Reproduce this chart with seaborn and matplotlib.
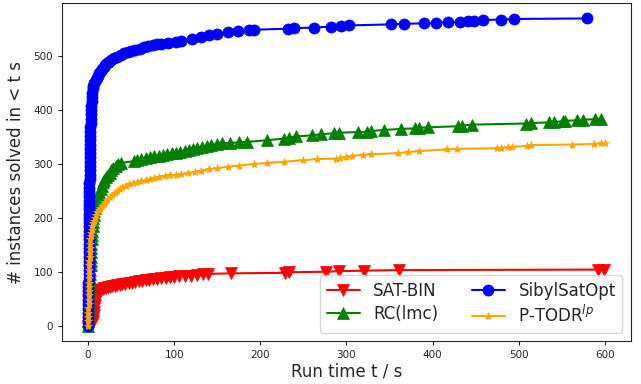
import matplotlib
matplotlib.use("Agg")
import matplotlib.pyplot as plt
import seaborn as sns
import pandas as pd

# ---- data: run time t (s) and number of instances solved ----
sat_bin_t = [0, 5, 6, 6.3, 6.6, 7, 7.3, 7.7, 8.1, 8.6, 9.2, 10, 11, 12, 13.5, 15, 17, 19, 21, 23,
             25, 28, 31, 34, 37, 40, 43, 47, 51, 55, 59, 63, 67, 71, 75, 80, 85, 90, 95, 100,
             106, 112, 119, 127, 133, 139, 166, 229, 233, 276, 291, 320, 361, 592, 599]
sat_bin_n = [0, 3, 8, 14, 20, 26, 32, 38, 44, 50, 55, 59, 62, 64, 66, 67, 68, 69, 70, 71,
             72, 73, 74, 75, 76, 77, 78, 79, 80, 81, 82, 83, 84, 85, 86, 87, 88, 89, 90, 91,
             92, 92, 93, 94, 95, 96, 97, 98, 99, 100, 101, 102, 103, 104, 104]

rc_t = [0, 0.3, 0.5, 0.7, 0.9, 1.1, 1.3, 1.5, 1.7, 1.9, 2.1, 2.3, 2.5, 2.7, 2.9, 3.1, 3.3, 3.5,
        3.7, 4.0, 4.3, 4.6, 5.0, 5.4, 5.8, 6.2, 6.8, 7.4, 8.2, 9, 10, 11, 12, 13, 14.5, 16, 17.5,
        19, 21, 23, 25, 27, 29.5, 32, 35, 38, 53, 57, 62, 67, 72, 77, 82, 87, 92, 97, 102, 107,
        112, 117, 122, 127, 132, 138, 143, 150, 155, 165, 175, 185, 208, 227, 233, 241, 260,
        270, 285, 291, 313, 324, 328, 343, 363, 380, 384, 395, 430, 434, 446, 508, 514, 535,
        541, 551, 554, 568, 574, 589, 595]
rc_n = [0, 8, 16, 24, 32, 40, 48, 56, 64, 72, 80, 88, 96, 104, 112, 120, 128, 136,
        144, 152, 160, 168, 176, 184, 192, 200, 206, 212, 218, 224, 230, 236, 242, 248, 254, 260, 266,
        271, 276, 280, 284, 288, 292, 296, 299, 302, 305, 307, 309, 311, 313, 314, 315, 317, 318, 320, 321, 322,
        324, 326, 328, 330, 332, 334, 335, 337, 338, 339, 340, 341, 344, 347, 349, 351, 353,
        355, 357, 358, 359, 360, 361, 363, 365, 366, 367, 368, 370, 371, 373, 375, 376, 377,
        378, 379, 380, 381, 382, 383, 384]

sibyl_t = [0, 0.1, 0.15, 0.2, 0.25, 0.3, 0.35, 0.4, 0.45, 0.5, 0.55, 0.6, 0.65, 0.7, 0.75, 0.8,
           0.85, 0.9, 0.95, 1.0, 1.05, 1.1, 1.15, 1.2, 1.25, 1.3, 1.35, 1.4, 1.45, 1.5, 1.55, 1.6,
           1.65, 1.7, 1.75, 1.8, 1.85, 1.9, 1.95, 2.0, 2.1, 2.2, 2.3, 2.4, 2.5, 2.6, 2.8, 3.0, 3.2,
           3.4, 3.6, 3.9, 4.2, 4.6, 5.0, 5.5, 6, 7.5, 9, 10.5, 12, 13,
           15, 16.5, 18, 20, 22, 24, 27, 30, 34, 38, 42, 46, 50, 55, 60, 65, 70, 75, 80, 85, 93,
           102, 108, 121, 131, 140, 150, 162, 174, 187, 193, 232, 239, 262, 282, 294, 303, 352,
           367, 390, 404, 418, 432, 441, 448, 458, 479, 495, 579]
sibyl_n = [0, 8, 16, 24, 32, 40, 48, 56, 64, 72, 80, 88, 96, 104, 112, 120,
           128, 136, 144, 152, 160, 168, 176, 184, 192, 200, 208, 216, 224, 232, 240, 248,
           256, 264, 272, 280, 288, 296, 304, 312, 320, 328, 336, 344, 352, 360, 368, 376, 384,
           392, 400, 408, 416, 424, 432, 440, 445, 450, 455, 460, 464, 468,
           472, 476, 480, 484, 488, 490, 493, 496, 499, 502, 505, 507, 510, 512, 514, 517, 519, 520, 522, 523, 525,
           527, 529, 532, 536, 539, 542, 544, 546, 548, 549, 551, 552, 553, 555, 556, 557, 559,
           560, 561, 562, 563, 564, 565, 566, 567, 568, 569, 570]

ptodr_t = [0, 0.2, 0.3, 0.4, 0.5, 0.6, 0.7, 0.8, 0.9, 1.0, 1.1, 1.2, 1.3, 1.4, 1.5, 1.6, 1.8,
           2.0, 2.2, 2.5, 2.8, 3.2, 3.7, 4.3, 5, 6, 7, 8, 9.5, 11, 12.5, 14, 16, 18, 20, 22.5,
           25, 28, 31, 34, 37, 40, 44, 48, 52, 57, 62, 67, 72, 77, 82, 89, 95, 102, 108, 116,
           124, 131, 140, 150, 162, 175, 193, 208, 227, 250, 266, 288, 293, 299, 307, 319, 329,
           360, 372, 384, 417, 428, 475, 479, 488, 492, 510, 514, 562, 587, 595, 600]
ptodr_n = [0, 8, 16, 24, 32, 40, 48, 56, 64, 72, 80, 88, 96, 104, 112, 120, 128,
           136, 144, 152, 160, 166, 172, 178, 184, 190, 195, 200, 205, 210, 214, 218, 222, 226, 230, 234,
           238, 242, 246, 250, 254, 257, 260, 262, 264, 266, 268, 270, 272, 274, 276, 278, 279, 280, 281, 283,
           285, 287, 290, 292, 295, 297, 300, 302, 304, 307, 309, 310, 311, 313, 315, 317, 318,
           320, 322, 324, 327, 328, 329, 330, 331, 332, 333, 335, 336, 337, 338, 339]

series = [
    ("SAT-BIN", sat_bin_t, sat_bin_n, "red", "v", 9),
    ("RC(lmc)", rc_t, rc_n, "green", "^", 9),
    ("SibylSatOpt", sibyl_t, sibyl_n, "blue", "o", 8),
    ("P-TODR$^{lp}$", ptodr_t, ptodr_n, "orange", "*", 6),
]

sns.set_style("ticks")
plt.rcParams['font.family'] = ['DejaVu Sans']

fig = plt.figure(figsize=(6.41, 3.84), dpi=100)
ax = fig.add_axes([0.097, 0.112, 0.887, 0.880])

for name, t, n, col, mk, ms in series:
    df = pd.DataFrame({"t": t, "n": n})
    sns.lineplot(data=df, x="t", y="n", ax=ax, color=col, marker=mk, markersize=ms,
                 markeredgecolor=col, markeredgewidth=0.5, linewidth=1.5,
                 estimator=None, sort=False, label=name)

ax.set_xticks([0, 100, 200, 300, 400, 500, 600])
ax.set_yticks([0, 100, 200, 300, 400, 500])
ax.tick_params(labelsize=7.5, length=3)
ax.set_xlabel("Run time t / s", fontsize=12, labelpad=2)
ax.set_ylabel("# instances solved in < t s", fontsize=12, labelpad=6)
ax.legend(loc="lower right", ncol=2, fontsize=12, frameon=True,
          handlelength=2, columnspacing=2.0, borderpad=0.4, labelspacing=0.3)

fig.savefig("out.png", dpi=100)
